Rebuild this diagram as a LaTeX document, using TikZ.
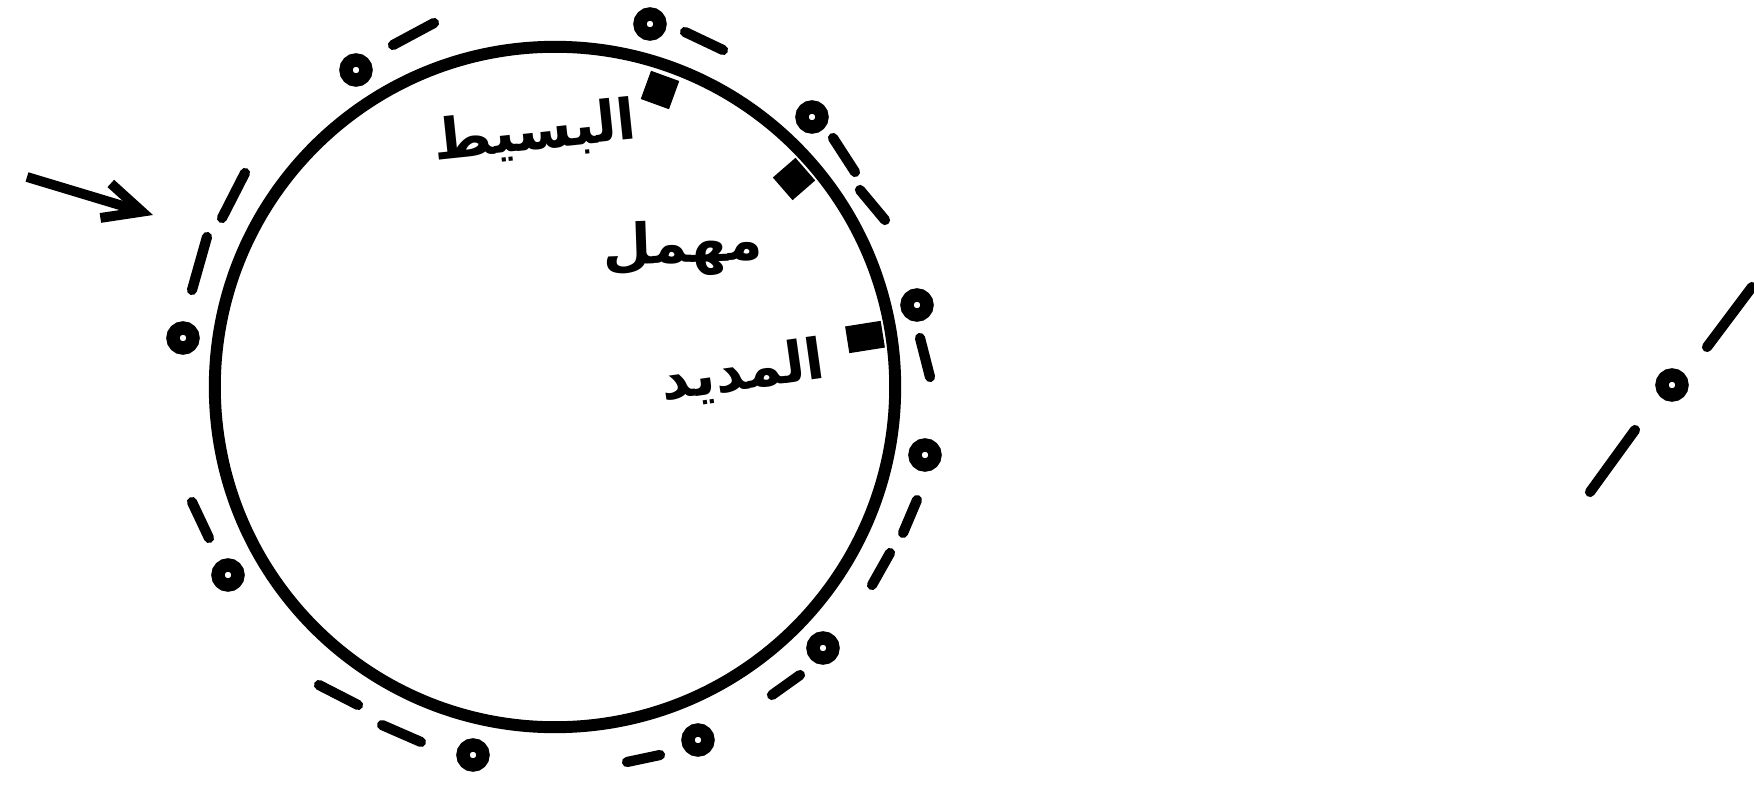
\documentclass[tikz,border=0pt]{standalone}
\usepackage{fontspec}
\newfontfamily\arabicfont[Script=Arabic]{DejaVu Sans}
\TeXXeTstate=1
\usepackage{tikz}
\usetikzlibrary{
    arrows.meta,
    positioning
}

\begin{document}
\begin{tikzpicture}[
        x=0.01cm, y=-0.01cm,
        ring/.style={draw, circle, line width=3.8pt, inner sep=0pt, minimum size=0.2cm},
        dashline/.style={line width=2.9pt, line cap=round},
        marker/.style={fill, inner sep=0pt, minimum width=0.3cm, minimum height=0.3cm},
        meterlabel/.style={font=\arabicfont\bfseries\fontsize{16}{19}\selectfont, inner sep=0pt},
    ]
        \useasboundingbox (0,0) rectangle (1754,800);

        % Main circle
        \draw[line width=3.4pt] (555,387) circle [radius=3.4cm];

        % Markers on the circle
        \node[marker, rotate=-20] (mark-basit) at (660,90) {};
        \node[marker, rotate=-49] (mark-muhmal) at (794,179) {};
        \node[marker, rotate=9, minimum width=0.36cm, minimum height=0.27cm] (mark-madid) at (865,337) {};

        % Meter names
        \node[meterlabel, rotate=6] (basit) at (535,133) {\beginR البسيط\endR};
        \node[meterlabel, rotate=2] (muhmal) at (683,248) {\beginR مهمل\endR};
        \node[meterlabel, rotate=8] (madid) at (743,373) {\beginR المديد\endR};

        % Rings (sakin letters) around the circle
        \foreach \i/\px/\py in {1/356/70, 2/183/338, 3/650/24, 4/812/117, 5/917/305,
                6/925/455, 7/823/648, 8/698/740, 9/473/755, 10/228/575, 11/1672/385} {
            \node[ring] (ring-\i) at (\px,\py) {};
        }

        % Dashes (moving letters)
        \foreach \ax/\ay/\bx/\by in {393/45/434/23, 245/173/222/218, 207/237/192/290,
                685/32/723/50, 833/138/855/172, 860/190/885/220, 920/338/930/377,
                917/500/903/533, 890/553/872/585, 800/675/772/695, 660/755/627/762,
                421/742/382/725, 358/705/319/685, 209/538/192/502,
                1752/287/1707/347, 1635/430/1590/492} {
            \draw[dashline] (\ax,\ay) -- (\bx,\by);
        }

        % Start arrow
        \coordinate (arrow-start) at (27,177);
        \coordinate (arrow-end) at (153,215);
        \draw[line width=2.8pt, -{Straight Barb[length=0.38cm, width=0.36cm]}] (arrow-start) -- (arrow-end);
    \end{tikzpicture}
\end{document}
